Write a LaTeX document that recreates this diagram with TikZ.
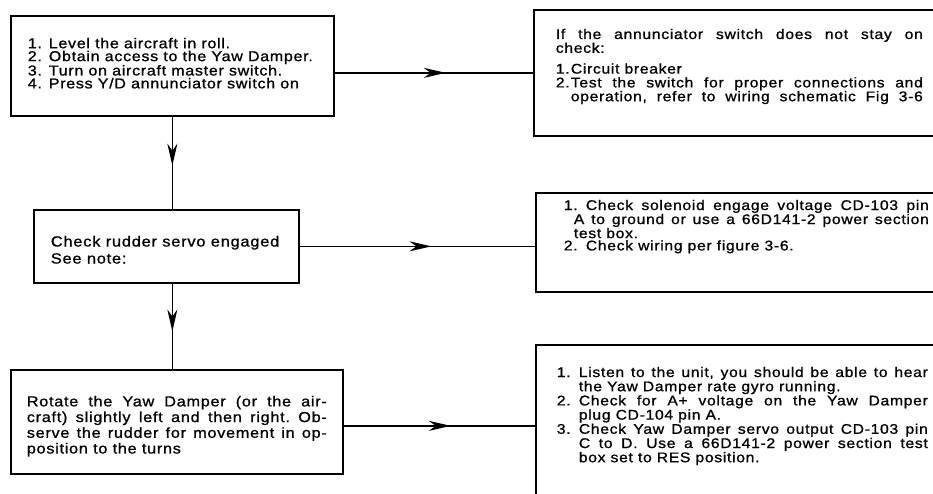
\documentclass[tikz,border=0pt]{standalone}
\usepackage{fontspec}
\setmainfont{Liberation Sans}[FakeStretch=1.12,LetterSpace=5,FakeBold=1]
\usetikzlibrary{arrows.meta,decorations.markings}
\setlength\parskip{0pt}
\frenchspacing
\newcommand\Jl[1]{\makebox[\linewidth][s]{#1}\par}
\newcommand\Rl[1]{\mbox{#1}\par}
\newcommand\ItemJ[3]{\makebox[#1][l]{#2}\makebox[\dimexpr\linewidth-#1\relax][s]{#3}\par}
\newcommand\ItemR[3]{\makebox[#1][l]{#2}\mbox{#3}\par}
\newcommand\ContJ[2]{\hspace*{#1}\makebox[\dimexpr\linewidth-#1\relax][s]{#2}\par}
\newcommand\ContR[2]{\hspace*{#1}\mbox{#2}\par}
\tikzset{
  box/.style={draw, rectangle, line width=1.7pt, inner ysep=0pt, anchor=north west},
  flow/.style={line width=1.3pt, postaction={decorate},
    decoration={markings, mark=at position #1 with {\arrow{Stealth[length=22pt,width=10pt,inset=7pt]}}}},
  flow/.default=0.56
}
\begin{document}
\begin{tikzpicture}[x=1pt,y=-1pt, every node/.style={font=\fontsize{14}{13.8}\selectfont}]
\useasboundingbox (0,0) rectangle (933,493);
\clip (0,0) rectangle (933,493);

\node[box, inner xsep=17pt] (b1) at (10,15) {\parbox[c][100pt][t]{289pt}{%
\fontsize{14.3}{12.9}\selectfont
\vspace*{22pt}
\ItemR{21pt}{1.}{Level the aircraft in roll.}
\ItemR{21pt}{2.}{Obtain access to the Yaw Damper.}
\ItemR{21pt}{3.}{Turn on aircraft master switch.}
\ItemR{21pt}{4.}{Press Y/D annunciator switch on}}};

\node[box, inner xsep=17pt] (b2) at (33,209) {\parbox[c][73pt][t]{231pt}{%
\fontsize{14.7}{17}\selectfont
\vspace*{26pt}
\Rl{Check rudder servo engaged}
\Rl{See note:}}};

\node[box, inner xsep=16pt] (b3) at (10,369) {\parbox[c][104pt][t]{300pt}{%
\fontsize{14.5}{15.7}\selectfont
\vspace*{26pt}
\Jl{Rotate the Yaw Damper (or the air-}
\Jl{craft) slightly left and then right. Ob-}
\Jl{serve the rudder for movement in op-}
\Rl{position to the turns}}};

\node[box, inner xsep=22pt] (r1) at (533,9) {\parbox[c][126pt][t]{367pt}{%
\vspace*{19pt}
\Jl{If the annunciator switch does not stay on}
\Rl{check:}
\vspace{7pt}
\ItemR{15pt}{1.}{Circuit breaker}
\ItemJ{15pt}{2.}{Test the switch for proper connections and}
\ContJ{15pt}{operation, refer to wiring schematic Fig 3-6}}};

\node[box, inner xsep=28pt] (r2) at (535,192) {\parbox[c][99pt][t]{365pt}{%
\fontsize{14}{12.3}\selectfont
\vspace*{7pt}
\ItemJ{22pt}{1.}{Check solenoid engage voltage CD-103 pin}
\ContJ{10pt}{A to ground or use a 66D141-2 power section}
\ContR{10pt}{test box.}
\ItemR{22pt}{2.}{Check wiring per figure 3-6.}}};

\node[box, inner xsep=21pt] (r3) at (535,344) {\parbox[c][162pt][t]{371pt}{%
\fontsize{14}{14.2}\selectfont
\vspace*{22pt}
\ItemJ{22pt}{1.}{Listen to the unit, you should be able to hear}
\ContR{22pt}{the Yaw Damper rate gyro running.}
\ItemJ{22pt}{2.}{Check for A+ voltage on the Yaw Damper}
\ContR{22pt}{plug CD-104 pin A.}
\ItemJ{22pt}{3.}{Check Yaw Damper servo output CD-103 pin}
\ContJ{22pt}{C to D. Use a 66D141-2 power section test}
\ContR{22pt}{box set to RES position.}}};

\draw[flow] (b1.east |- r1.west) -- (r1.west);
\draw[flow] (b2.east) -- (b2.east -| r2.west);
\draw[flow] (b3.east |- r3.west) -- (r3.west);
\draw[flow=0.53] (b1.south) -- (b1.south |- b2.north);
\draw[flow=0.56] (b1.south |- b2.south) -- (b1.south |- b3.north);
\end{tikzpicture}
\end{document}
